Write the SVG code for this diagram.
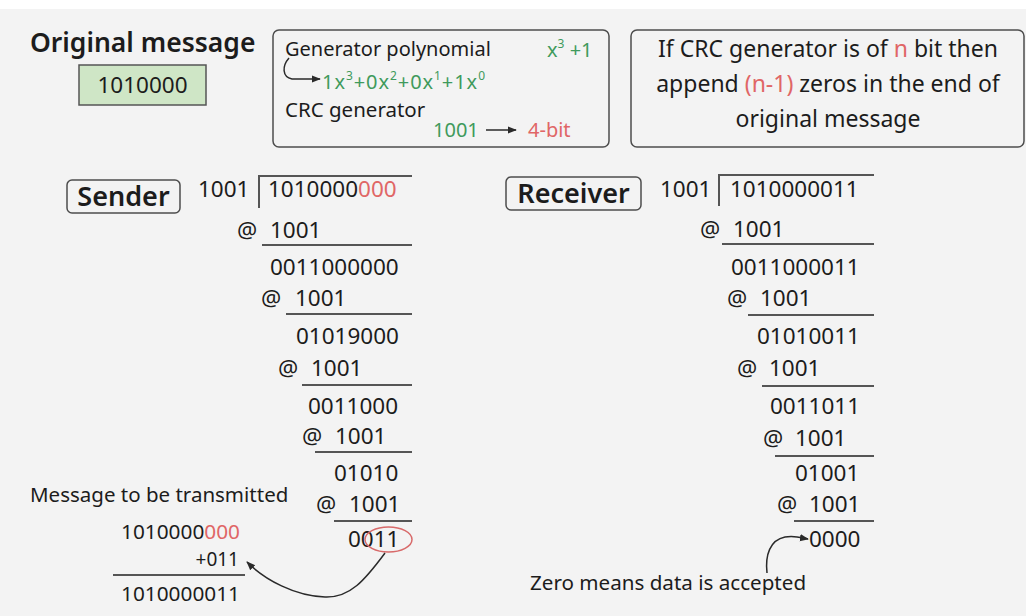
<svg xmlns="http://www.w3.org/2000/svg" width="1026" height="616" viewBox="0 0 1026 616">
<defs>
<style>
text{font-family:"Noto Sans","Open Sans",sans-serif;fill:#1c1c1c}
.n{font-size:22.5px}
.g{fill:#3f9a5c}
.r{fill:#e06666}
.box{fill:none;stroke:#4d4d4d;stroke-width:1.5}
.ln{stroke:#555;stroke-width:2}
.ar{fill:none;stroke:#2a2a2a;stroke-width:1.5}
</style>
<marker id="ah" viewBox="0 0 10 10" refX="9" refY="5" markerWidth="6" markerHeight="6" orient="auto"><path d="M0,1 L10,5 L0,9 z" fill="#2a2a2a"/></marker>
</defs>
<rect width="1026" height="616" fill="#f3f3f3"/>
<rect width="1026" height="9" fill="#ffffff"/>

<g id="original">
<text x="30" y="52" font-size="26.5" font-weight="600">Original message</text>
<rect x="79" y="65" width="127" height="40" fill="#cfe6c6" stroke="#555" stroke-width="1.5"/>
<text x="142.5" y="93" class="n" text-anchor="middle">1010000</text>
</g>

<g id="generator">
<rect x="273" y="30" width="336" height="117" rx="6" class="box"/>
<text x="285" y="56" font-size="20">Generator polynomial</text>
<text x="547" y="57" font-size="20" class="g">x<tspan font-size="12" dy="-9">3</tspan><tspan dy="9"> +1</tspan></text>
<text x="322" y="89" font-size="20" class="g" textLength="163" lengthAdjust="spacing">1x<tspan font-size="12" dy="-9">3</tspan><tspan dy="9">+0x</tspan><tspan font-size="12" dy="-9">2</tspan><tspan dy="9">+0x</tspan><tspan font-size="12" dy="-9">1</tspan><tspan dy="9">+1x</tspan><tspan font-size="12" dy="-9">0</tspan></text>
<text x="285" y="117" font-size="20.5">CRC generator</text>
<text x="433" y="137" font-size="20" class="g">1001</text>
<text x="528" y="137" font-size="20" class="r">4-bit</text>
</g>

<g id="rule">
<rect x="631" y="30" width="393" height="117" rx="6" class="box"/>
<text x="828" y="57" font-size="23" text-anchor="middle">If CRC generator is of <tspan class="r">n</tspan> bit then</text>
<text x="828" y="92" font-size="23" text-anchor="middle">append <tspan class="r">(n-1)</tspan> zeros in the end of</text>
<text x="828" y="127" font-size="23" text-anchor="middle">original message</text>
</g>

<g id="sender">
<rect x="67" y="180" width="113" height="33" rx="5" class="box"/>
<text x="123.5" y="206" font-size="27" font-weight="600" text-anchor="middle">Sender</text>
<text x="198" y="197" class="n">1001</text>
<path d="M259,208 V176 H412" class="ln" fill="none"/>
<text x="268" y="197" class="n">1010000<tspan class="r">000</tspan></text>
<text x="237" y="238" class="n">@</text><text x="270" y="238" class="n">1001</text>
<line x1="262" y1="245" x2="412" y2="245" class="ln"/>
<text x="270" y="275" class="n">0011000000</text>
<text x="261" y="306" class="n">@</text><text x="295" y="306" class="n">1001</text>
<line x1="286" y1="314" x2="412" y2="314" class="ln"/>
<text x="296" y="344" class="n">01019000</text>
<text x="278" y="376" class="n">@</text><text x="311" y="376" class="n">1001</text>
<line x1="302" y1="385" x2="412" y2="385" class="ln"/>
<text x="308" y="414" class="n">0011000</text>
<text x="302" y="444" class="n">@</text><text x="335" y="444" class="n">1001</text>
<line x1="315" y1="452" x2="412" y2="452" class="ln"/>
<text x="334" y="481" class="n">01010</text>
<text x="316" y="512" class="n">@</text><text x="349" y="512" class="n">1001</text>
<line x1="334" y1="521" x2="412" y2="521" class="ln"/>
<text x="348" y="547" class="n">0011</text>
<ellipse cx="388.5" cy="539.5" rx="23.5" ry="12.5" fill="none" stroke="#d86a6a" stroke-width="1.5"/>
</g>

<g id="transmit">
<text x="30" y="502" font-size="20.5">Message to be transmitted</text>
<text x="121" y="539" font-size="19" textLength="119" lengthAdjust="spacingAndGlyphs">1010000<tspan class="r">000</tspan></text>
<text x="239" y="566" font-size="19" text-anchor="end">+011</text>
<line x1="113" y1="575" x2="245" y2="575" class="ln"/>
<text x="121" y="601" font-size="20" textLength="119" lengthAdjust="spacingAndGlyphs">1010000011</text>
</g>

<g id="receiver">
<rect x="506" y="177" width="135" height="33" rx="5" class="box"/>
<text x="573.5" y="203" font-size="27" font-weight="600" text-anchor="middle">Receiver</text>
<text x="660" y="197" class="n">1001</text>
<path d="M719,206 V175 H874" class="ln" fill="none"/>
<text x="730" y="197" class="n">1010000011</text>
<text x="700" y="237" class="n">@</text><text x="733" y="237" class="n">1001</text>
<line x1="722" y1="244" x2="874" y2="244" class="ln"/>
<text x="731" y="275" class="n">0011000011</text>
<text x="727" y="306" class="n">@</text><text x="760" y="306" class="n">1001</text>
<line x1="748" y1="315" x2="874" y2="315" class="ln"/>
<text x="757" y="344" class="n">01010011</text>
<text x="737" y="376" class="n">@</text><text x="769" y="376" class="n">1001</text>
<line x1="762" y1="386" x2="874" y2="386" class="ln"/>
<text x="770" y="414" class="n">0011011</text>
<text x="763" y="446" class="n">@</text><text x="795" y="446" class="n">1001</text>
<line x1="775" y1="456" x2="874" y2="456" class="ln"/>
<text x="795" y="481" class="n">01001</text>
<text x="777" y="512" class="n">@</text><text x="809" y="512" class="n">1001</text>
<line x1="794" y1="521" x2="874" y2="521" class="ln"/>
<text x="809" y="547" class="n">0000</text>
<text x="530" y="590" font-size="20.6">Zero means data is accepted</text>
</g>

<g id="connectors">
<path d="M289,58 C282,66 282,77 292,79 L320,79" class="ar" marker-end="url(#ah)"/>
<line x1="486" y1="130" x2="516" y2="130" class="ar" marker-end="url(#ah)"/>
<path d="M385,553 C365,580 350,598 325,597 C295,596 265,580 247,562" class="ar" marker-end="url(#ah)"/>
<path d="M767,573 C765,555 770,540 785,537 C795,535 802,538 808,539" class="ar" marker-end="url(#ah)"/>
</g>
</svg>
